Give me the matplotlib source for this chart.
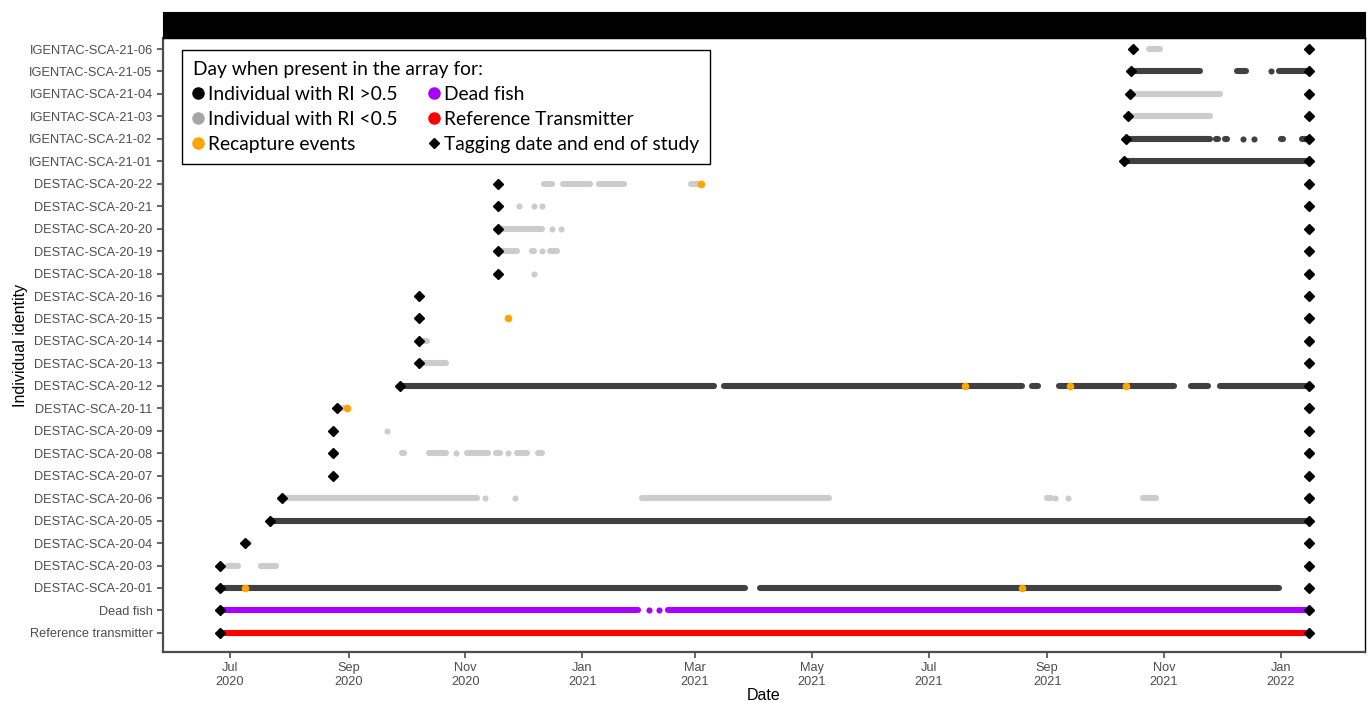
import matplotlib
matplotlib.use("Agg")
import matplotlib.pyplot as plt
import matplotlib.dates as mdates
from matplotlib.lines import Line2D
import pandas as pd

# Individuals from bottom to top of the plot
ids = ["Reference transmitter", "Dead fish",
       "DESTAC-SCA-20-01", "DESTAC-SCA-20-03", "DESTAC-SCA-20-04", "DESTAC-SCA-20-05",
       "DESTAC-SCA-20-06", "DESTAC-SCA-20-07", "DESTAC-SCA-20-08", "DESTAC-SCA-20-09",
       "DESTAC-SCA-20-11", "DESTAC-SCA-20-12", "DESTAC-SCA-20-13", "DESTAC-SCA-20-14",
       "DESTAC-SCA-20-15", "DESTAC-SCA-20-16", "DESTAC-SCA-20-18", "DESTAC-SCA-20-19",
       "DESTAC-SCA-20-20", "DESTAC-SCA-20-21", "DESTAC-SCA-20-22",
       "IGENTAC-SCA-21-01", "IGENTAC-SCA-21-02", "IGENTAC-SCA-21-03",
       "IGENTAC-SCA-21-04", "IGENTAC-SCA-21-05", "IGENTAC-SCA-21-06"]

tag_dates = ["2020-06-26", "2020-06-26", "2020-06-26", "2020-06-26", "2020-07-09", "2020-07-22",
             "2020-07-28", "2020-08-24", "2020-08-24", "2020-08-24", "2020-08-26", "2020-09-28",
             "2020-10-08", "2020-10-08", "2020-10-08", "2020-10-08",
             "2020-11-18", "2020-11-18", "2020-11-18", "2020-11-18", "2020-11-18",
             "2021-10-11", "2021-10-12", "2021-10-13", "2021-10-14", "2021-10-15", "2021-10-16"]
end_of_study = "2022-01-16"

# Detection runs (id, first day, last day)
ref_runs = [("Reference transmitter", "2020-06-26", "2022-01-16")]

dead_runs = [("Dead fish", "2020-06-26", "2021-01-30"),
             ("Dead fish", "2021-02-05", "2021-02-05"),
             ("Dead fish", "2021-02-10", "2021-02-10"),
             ("Dead fish", "2021-02-15", "2022-01-16")]

high_ri_runs = [("DESTAC-SCA-20-01", "2020-06-26", "2021-03-27"),
                ("DESTAC-SCA-20-01", "2021-04-04", "2021-12-31"),
                ("DESTAC-SCA-20-05", "2020-07-22", "2022-01-16"),
                ("DESTAC-SCA-20-12", "2020-09-28", "2021-03-11"),
                ("DESTAC-SCA-20-12", "2021-03-16", "2021-08-19"),
                ("DESTAC-SCA-20-12", "2021-08-24", "2021-08-27"),
                ("DESTAC-SCA-20-12", "2021-09-07", "2021-11-06"),
                ("DESTAC-SCA-20-12", "2021-11-15", "2021-11-24"),
                ("DESTAC-SCA-20-12", "2021-11-30", "2022-01-16"),
                ("IGENTAC-SCA-21-01", "2021-10-11", "2022-01-16"),
                ("IGENTAC-SCA-21-02", "2021-10-12", "2021-11-25"),
                ("IGENTAC-SCA-21-02", "2021-11-28", "2021-11-29"),
                ("IGENTAC-SCA-21-02", "2021-12-03", "2021-12-04"),
                ("IGENTAC-SCA-21-02", "2021-12-12", "2021-12-12"),
                ("IGENTAC-SCA-21-02", "2021-12-18", "2021-12-18"),
                ("IGENTAC-SCA-21-02", "2022-01-01", "2022-01-02"),
                ("IGENTAC-SCA-21-02", "2022-01-12", "2022-01-16"),
                ("IGENTAC-SCA-21-05", "2021-10-15", "2021-11-20"),
                ("IGENTAC-SCA-21-05", "2021-12-09", "2021-12-14"),
                ("IGENTAC-SCA-21-05", "2021-12-27", "2021-12-27"),
                ("IGENTAC-SCA-21-05", "2021-12-31", "2022-01-16")]

low_ri_runs = [("DESTAC-SCA-20-03", "2020-06-30", "2020-07-05"),
               ("DESTAC-SCA-20-03", "2020-07-17", "2020-07-25"),
               ("DESTAC-SCA-20-04", "2020-07-10", "2020-07-11"),
               ("DESTAC-SCA-20-06", "2020-07-28", "2020-11-07"),
               ("DESTAC-SCA-20-06", "2020-11-11", "2020-11-11"),
               ("DESTAC-SCA-20-06", "2020-11-27", "2020-11-27"),
               ("DESTAC-SCA-20-06", "2021-02-01", "2021-05-10"),
               ("DESTAC-SCA-20-06", "2021-09-01", "2021-09-03"),
               ("DESTAC-SCA-20-06", "2021-09-05", "2021-09-05"),
               ("DESTAC-SCA-20-06", "2021-09-12", "2021-09-12"),
               ("DESTAC-SCA-20-06", "2021-10-21", "2021-10-28"),
               ("DESTAC-SCA-20-08", "2020-09-29", "2020-09-30"),
               ("DESTAC-SCA-20-08", "2020-10-13", "2020-10-22"),
               ("DESTAC-SCA-20-08", "2020-10-27", "2020-10-27"),
               ("DESTAC-SCA-20-08", "2020-11-02", "2020-11-13"),
               ("DESTAC-SCA-20-08", "2020-11-17", "2020-11-19"),
               ("DESTAC-SCA-20-08", "2020-11-23", "2020-11-23"),
               ("DESTAC-SCA-20-08", "2020-11-28", "2020-12-03"),
               ("DESTAC-SCA-20-08", "2020-12-09", "2020-12-11"),
               ("DESTAC-SCA-20-09", "2020-09-21", "2020-09-21"),
               ("DESTAC-SCA-20-11", "2020-08-26", "2020-08-31"),
               ("DESTAC-SCA-20-13", "2020-10-08", "2020-10-22"),
               ("DESTAC-SCA-20-14", "2020-10-08", "2020-10-12"),
               ("DESTAC-SCA-20-18", "2020-12-07", "2020-12-07"),
               ("DESTAC-SCA-20-19", "2020-11-18", "2020-11-28"),
               ("DESTAC-SCA-20-19", "2020-12-06", "2020-12-07"),
               ("DESTAC-SCA-20-19", "2020-12-11", "2020-12-11"),
               ("DESTAC-SCA-20-19", "2020-12-15", "2020-12-19"),
               ("DESTAC-SCA-20-20", "2020-11-18", "2020-12-11"),
               ("DESTAC-SCA-20-20", "2020-12-16", "2020-12-16"),
               ("DESTAC-SCA-20-20", "2020-12-21", "2020-12-21"),
               ("DESTAC-SCA-20-21", "2020-11-29", "2020-11-29"),
               ("DESTAC-SCA-20-21", "2020-12-07", "2020-12-07"),
               ("DESTAC-SCA-20-21", "2020-12-11", "2020-12-11"),
               ("DESTAC-SCA-20-22", "2020-12-12", "2020-12-16"),
               ("DESTAC-SCA-20-22", "2020-12-22", "2021-01-05"),
               ("DESTAC-SCA-20-22", "2021-01-10", "2021-01-23"),
               ("DESTAC-SCA-20-22", "2021-02-27", "2021-03-04"),
               ("IGENTAC-SCA-21-03", "2021-10-13", "2021-11-25"),
               ("IGENTAC-SCA-21-04", "2021-10-14", "2021-11-30"),
               ("IGENTAC-SCA-21-06", "2021-10-24", "2021-10-30")]

recaptures = [("DESTAC-SCA-20-01", "2020-07-09"), ("DESTAC-SCA-20-01", "2021-08-19"),
              ("DESTAC-SCA-20-11", "2020-08-31"), ("DESTAC-SCA-20-12", "2021-07-20"),
              ("DESTAC-SCA-20-12", "2021-09-13"), ("DESTAC-SCA-20-12", "2021-10-12"),
              ("DESTAC-SCA-20-15", "2020-11-23"), ("DESTAC-SCA-20-22", "2021-03-04")]

C_HIGH = "#404040"
C_LOW = "#cccccc"
C_DEAD = "#a800ff"
C_REF = "#ff0000"
C_RECAP = "#ffa500"
LW = 4.4

plt.rcParams["font.family"] = ["Liberation Sans", "DejaVu Sans"]

fig = plt.figure(figsize=(13.68, 7.02), dpi=100)
ax = fig.add_axes([163 / 1368, 50 / 702, 1202 / 1368, 614 / 702])
ypos = {name: i for i, name in enumerate(ids)}


def draw_runs(runs, color):
    for name, start, end in runs:
        s, e = pd.Timestamp(start), pd.Timestamp(end)
        y = ypos[name]
        if s == e:
            ax.plot([s], [y], "o", color=color, ms=LW, mec="none", zorder=2)
        else:
            ax.plot([s, e], [y, y], color=color, lw=LW,
                    solid_capstyle="round", zorder=2)


draw_runs(low_ri_runs, C_LOW)
draw_runs(high_ri_runs, C_HIGH)
draw_runs(dead_runs, C_DEAD)
draw_runs(ref_runs, C_REF)

rx = [pd.Timestamp(d) for _, d in recaptures]
ry = [ypos[n] for n, _ in recaptures]
ax.plot(rx, ry, "o", color=C_RECAP, ms=5.5, mec="none", ls="none", zorder=3)

# tagging date and end of study
ax.plot(pd.to_datetime(tag_dates), range(len(ids)), "D", color="black",
        ms=5, ls="none", zorder=4)
ax.plot([pd.Timestamp(end_of_study)] * len(ids), range(len(ids)), "D",
        color="black", ms=5, ls="none", zorder=4)

ax.set_xlim(pd.Timestamp("2020-05-27"), pd.Timestamp("2022-02-14"))
ax.set_ylim(-0.85, 26.49)
ax.set_yticks(range(len(ids)))
ax.set_yticklabels(ids)
ax.xaxis.set_major_locator(mdates.MonthLocator(bymonth=[1, 3, 5, 7, 9, 11]))
ax.xaxis.set_major_formatter(mdates.DateFormatter("%b\n%Y"))
ax.tick_params(axis="both", colors="#4d4d4d", labelsize=9.2, length=4, width=1.2)
ax.tick_params(axis="x", pad=3)
for side in ["left", "bottom"]:
    ax.spines[side].set_color("#4d4d4d")
    ax.spines[side].set_linewidth(1.6)
for side in ["top", "right"]:
    ax.spines[side].set_color("black")
    ax.spines[side].set_linewidth(1)
ax.set_xlabel("Date", fontsize=11.5, labelpad=0)
ax.set_ylabel("Individual identity", fontsize=11.5, labelpad=1)

# black strip above the panel
strip = fig.add_axes([163 / 1368, 664 / 702, 1202 / 1368, 26 / 702])
strip.set_facecolor("black")
strip.set_xticks([])
strip.set_yticks([])

handles = [
    Line2D([], [], marker="o", ls="none", color="black", ms=8, label="Individual with RI >0.5"),
    Line2D([], [], marker="o", ls="none", color="#a6a6a6", ms=8, label="Individual with RI <0.5"),
    Line2D([], [], marker="o", ls="none", color=C_RECAP, ms=8, label="Recapture events"),
    Line2D([], [], marker="o", ls="none", color=C_DEAD, ms=8, label="Dead fish"),
    Line2D([], [], marker="o", ls="none", color=C_REF, ms=8, label="Reference Transmitter"),
    Line2D([], [], marker="D", ls="none", color="black", ms=5, label="Tagging date and end of study"),
]
leg = ax.legend(handles=handles, ncol=2, title="Day when present in the array for:",
                loc="upper left", bbox_to_anchor=(0.0158, 0.980), borderaxespad=0,
                fancybox=False, edgecolor="black", framealpha=1,
                prop={"family": "Lato", "size": 13.9},
                title_fontproperties={"family": "Lato", "size": 13.9},
                alignment="left", handlelength=0.55, handletextpad=0.25,
                columnspacing=1.6, labelspacing=0.42, borderpad=0.55)
leg.get_frame().set_linewidth(1)

fig.savefig("out.png", dpi=100)
